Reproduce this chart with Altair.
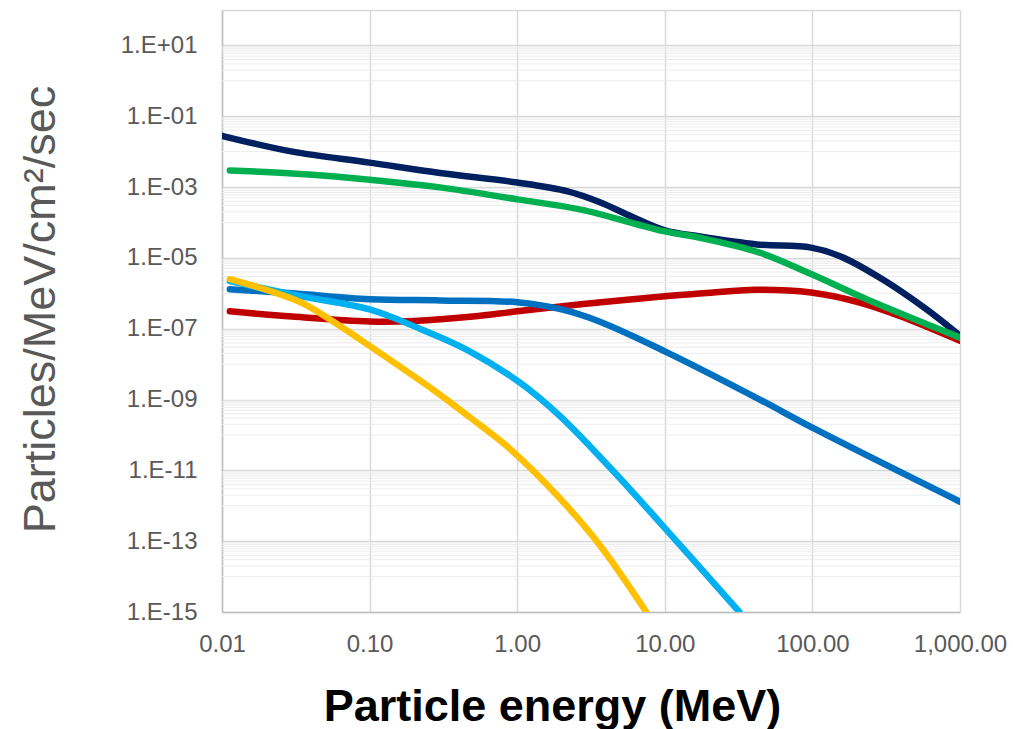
import altair as alt
import pandas as pd

# ---- data ----
navy_E = [0.01, 0.03, 0.1, 0.3, 1, 2.2, 3.6, 6, 10, 17.3, 42, 98, 154, 300, 594, 1000]
navy_v = [2.8e-2, 1.0e-2, 4.9e-3, 2.5e-3, 1.35e-3, 7.6e-4, 3.8e-4, 1.45e-4, 6.0e-5, 4.0e-5, 2.4e-5, 1.95e-5, 1.12e-5, 2.45e-6, 3.5e-7, 6.3e-8]

red_E = [0.0113, 0.03, 0.1, 0.2, 0.5, 1, 2.7, 10, 17.3, 42, 98, 209, 390, 1000]
red_v = [3.1e-7, 2.2e-7, 1.6e-7, 1.65e-7, 2.2e-7, 3.1e-7, 4.9e-7, 8.3e-7, 9.8e-7, 1.25e-6, 1.05e-6, 5.5e-7, 2.3e-7, 4.6e-8]

blue_E = [0.0113, 0.03, 0.1, 0.3, 1, 2, 3.6, 10, 44, 100, 1000]
blue_v = [1.3e-6, 1.0e-6, 6.8e-7, 6.3e-7, 5.6e-7, 3.5e-7, 1.6e-7, 2.3e-8, 1.0e-9, 1.6e-10, 1.3e-12]

green_E = [0.0113, 0.03, 0.1, 0.3, 1, 2.7, 10, 17.3, 44, 98, 233, 1000]
green_v = [2.95e-3, 2.4e-3, 1.62e-3, 9.8e-4, 4.5e-4, 2.3e-4, 5.6e-5, 3.7e-5, 1.4e-5, 3.5e-6, 6.8e-7, 5.6e-8]

lightblue_E = [0.0113, 0.034, 0.1, 0.219, 0.46, 1.05, 1.95, 4.25, 9.3, 32]
lightblue_v = [2.2e-6, 8.3e-7, 3.5e-7, 1.0e-7, 2.5e-8, 2.95e-9, 3.4e-10, 1.2e-11, 3.3e-13, 1e-15]

yellow_E = [0.0113, 0.034, 0.06, 0.086, 0.285, 0.48, 0.89, 1.95, 3.64, 7.5]
yellow_v = [2.5e-6, 5.6e-7, 1.35e-7, 5.0e-8, 1.6e-9, 3.1e-10, 4.1e-11, 1.6e-12, 7.6e-14, 1e-15]

series = [
    ("navy", navy_E, navy_v, "#002060"),
    ("red", red_E, red_v, "#C00000"),
    ("blue", blue_E, blue_v, "#0070C0"),
    ("green", green_E, green_v, "#00B050"),
    ("lightblue", lightblue_E, lightblue_v, "#00B0F0"),
    ("yellow", yellow_E, yellow_v, "#FFC000"),
]

x_ticks = [0.01, 0.1, 1, 10, 100, 1000]
y_ticks = [1e2, 1e1, 1e-1, 1e-3, 1e-5, 1e-7, 1e-9, 1e-11, 1e-13, 1e-15]
minor_exps = [0, -2, -4, -6, -8, -10, -12, -14]
minor_mult = [1, 2, 3, 4, 5, 6, 7, 8, 9]
minor_vals = [m * 10.0 ** e for e in minor_exps for m in minor_mult]

FONT = "Liberation Sans"

xscale = alt.Scale(type="log", domain=[0.01, 1000], nice=False)
yscale = alt.Scale(type="log", domain=[1e-15, 1e2], nice=False)

xaxis = alt.Axis(
    values=x_ticks, format=",.2f", labelFont=FONT, labelFontSize=24, labelColor="#595959",
    labelPadding=20, labelFlush=False, labelOverlap=False, ticks=False,
    grid=True, gridColor="#d9d9d9", gridWidth=1.5,
    domainColor="#bfbfbf", domainWidth=1.5,
    title="Particle energy (MeV)", titleFont=FONT, titleFontSize=45, titleFontWeight="bold",
    titleColor="#000000", titleX=330, titleY=108, titleAlign="center", titleBaseline="alphabetic",
)
yaxis = alt.Axis(
    values=y_ticks,
    labelExpr="datum.value > 50 ? '' : '1.E' + (round(log(datum.value)/LN10) >= 0 ? '+' : '-') + (abs(round(log(datum.value)/LN10)) < 10 ? '0' : '') + abs(round(log(datum.value)/LN10))",
    labelFont=FONT, labelFontSize=24, labelColor="#595959", labelPadding=25, ticks=False,
    grid=True, gridColor="#d9d9d9", gridWidth=1.5,
    domainColor="#bfbfbf", domainWidth=1.5,
    title="Particles/MeV/cm²/sec", titleFont=FONT, titleFontSize=45, titleFontWeight="normal",
    titleColor="#595959", titleX=-168, titleY=299, titleAngle=-90, titleAlign="center",
    titleBaseline="alphabetic",
)

minor_df = pd.DataFrame({"v": minor_vals})
minor = alt.Chart(minor_df).mark_rule(color="#ececec", strokeWidth=1).encode(
    y=alt.Y("v:Q", scale=yscale, axis=yaxis)
)

layers = [minor]
for name, E, v, col in series:
    df = pd.DataFrame({"E": E, "v": v})
    layers.append(
        alt.Chart(df).mark_line(color=col, strokeWidth=6.5, interpolate="catmull-rom", clip=True,
                                strokeCap="round").encode(
            x=alt.X("E:Q", scale=xscale, axis=xaxis),
            y=alt.Y("v:Q", scale=yscale, axis=yaxis),
        )
    )

chart = alt.layer(*layers).properties(
    width=738, height=602,
    padding={"left": 222, "top": 10, "right": 53, "bottom": 117},
    autosize=alt.AutoSizeParams(type="none"),
    background="white",
).configure_view(strokeWidth=0)

chart.save("out.html", embed_options={"renderer": "svg", "actions": False})
